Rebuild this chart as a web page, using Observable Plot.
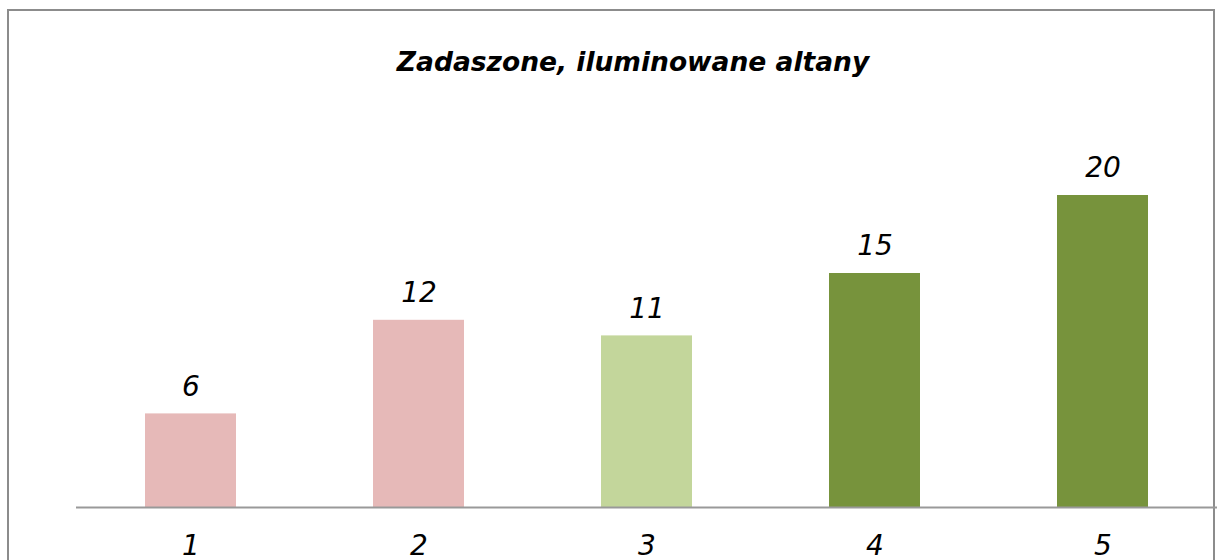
<!DOCTYPE html>
<html>
<head>
<meta charset="utf-8">
<script src="https://cdn.jsdelivr.net/npm/d3@7"></script>
<script src="https://cdn.jsdelivr.net/npm/@observablehq/plot@0.6"></script>
<style>
  html, body { margin: 0; padding: 0; background: #fff; }
  #wrap { position: relative; width: 1218px; height: 560px; overflow: hidden; }
  #border { position: absolute; left: 7px; top: 9px; width: 1208px; height: 600px; border: 2px solid #8c8c8c; box-sizing: border-box; }
  #chart { position: absolute; left: 0; top: 0; }
</style>
</head>
<body>
<div id="wrap">
  <div id="border"></div>
  <div id="chart"></div>
</div>
<script>
const title = "Zadaszone, iluminowane altany";
const categories = ["1", "2", "3", "4", "5"];
const values = [6, 12, 11, 15, 20];
const colors = ["#E6B9B8", "#E6B9B8", "#C3D69B", "#77933C", "#77933C"];

const data = categories.map((c, i) => ({cat: c, value: values[i], color: colors[i]}));

const font = "'DejaVu Sans', Verdana, sans-serif";

const chart = Plot.plot({
  width: 1218,
  height: 560,
  marginLeft: 76,
  marginRight: 1,
  marginTop: 195,
  marginBottom: 53,
  style: {fontFamily: font, background: "transparent", overflow: "visible"},
  x: {domain: categories, paddingInner: 0.6, paddingOuter: 0.3, label: null},
  y: {domain: [0, 20], axis: null},
  marks: [
    Plot.barY(data, {x: "cat", y: "value", fill: "color"}),
    Plot.ruleY([0], {stroke: "#999", strokeWidth: 2}),
    Plot.text(data, {x: "cat", y: "value", text: d => String(d.value), dy: -27, fontSize: 28, fontStyle: "italic", fill: "#000"}),
    Plot.axisX({tickSize: 0, tickPadding: 28, fontSize: 28, fontStyle: "italic", color: "#000", label: null}),
    Plot.text([title], {frameAnchor: "top", lineAnchor: "middle", dx: -14, dy: -133, fontSize: 26.5, fontWeight: "bold", fontStyle: "italic", fill: "#000"})
  ]
});
document.getElementById("chart").appendChild(chart);
</script>
</body>
</html>
